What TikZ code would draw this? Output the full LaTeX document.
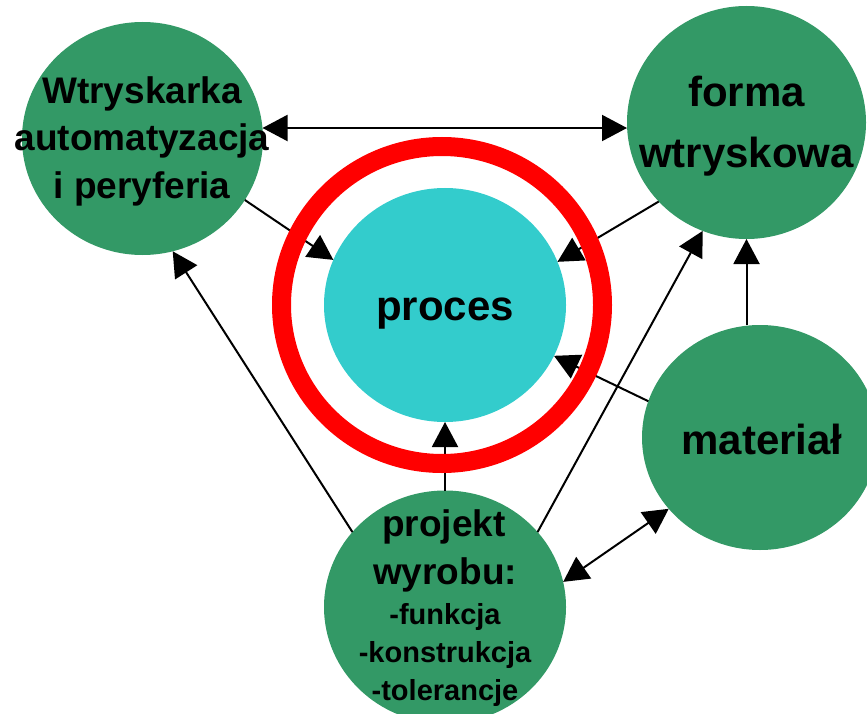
\documentclass[tikz,border=0pt]{standalone}
\usepackage{fontspec}
\setmainfont{Liberation Sans}
\usetikzlibrary{shapes.geometric,arrows.meta}
\definecolor{blobgreen}{HTML}{339966}
\definecolor{proccyan}{HTML}{33CCCC}
\definecolor{ringred}{HTML}{FF0000}

\begin{document}
\begin{tikzpicture}[x=1pt,y=-1pt,
  blob/.style={ellipse, fill=blobgreen, draw=none, inner sep=0pt, outer sep=0pt},
  lbl/.style={anchor=base, inner sep=0pt, text=black,
              font=\bfseries\fontsize{#1}{#1}\selectfont},
  tipshape/.style={},
  link/.style={line width=2pt, -{Triangle[length=25pt,width=26pt]}},
  both/.style={line width=2pt,
               {Triangle[length=25pt,width=26pt]}-{Triangle[length=25pt,width=26pt]}}]

\useasboundingbox (0,0) rectangle (867,714);
\clip (0,0) rectangle (867,714);

% the five discs
\node[blob, minimum width=241pt, minimum height=233pt] (W) at (142.5,138.5) {};
\node[blob, minimum width=239pt, minimum height=233pt] (F) at (746.5,122.5) {};
\node[ellipse, fill=proccyan, inner sep=0pt, outer sep=0pt,
      minimum width=242pt, minimum height=234pt] (P) at (445,305) {};
\node[blob, minimum width=236pt, minimum height=225pt] (M) at (760,437.5) {};
\node[blob, minimum width=242pt, minimum height=233pt] (J) at (445,607) {};

% labels
\node[lbl=37] (w1) at (142,104) {Wtryskarka};
\node[lbl=37] (w2) at (142,151) {automatyzacja};
\node[lbl=37] (w3) at (142,199) {i peryferia};

\node[lbl=42] (f1) at (746.5,107) {forma};
\node[lbl=42] (f2) at (746.5,168) {wtryskowa};

\node[lbl=42] (p1) at (445,320) {proces};

\node[lbl=42] (m1) at (762,454) {materiał};

\node[lbl=37] (j1) at (444,536) {projekt};
\node[lbl=37] (j2) at (445,584) {wyrobu:};
\node[lbl=29] (j3) at (445,624) {-funkcja};
\node[lbl=29] (j4) at (445,662) {-konstrukcja};
\node[lbl=29] (j5) at (445,700) {-tolerancje};

% connectors
\draw[both] (W.5) -- (W.5 -| F.west);
\draw[link] (W.-31) -- (P.158.6);
\draw[link] (F.-138) -- (P.21);
\draw[link] (M.162) -- (P.-25);
\draw[link] (J.north) -- (P.south);
\draw[link] (J.141) -- (W.-75);
\draw[link] (J.39) -- (F.-112);
\draw[link] (F.south |- M.north) -- (F.south);
\draw[both] (J.12.5) -- (M.-142.2);

% red ring around the process, over the connectors
\node[ellipse, draw=ringred, line width=19pt, inner sep=0pt,
      minimum width=321pt, minimum height=317pt] (ring) at (442,305) {};

\end{tikzpicture}
\end{document}
